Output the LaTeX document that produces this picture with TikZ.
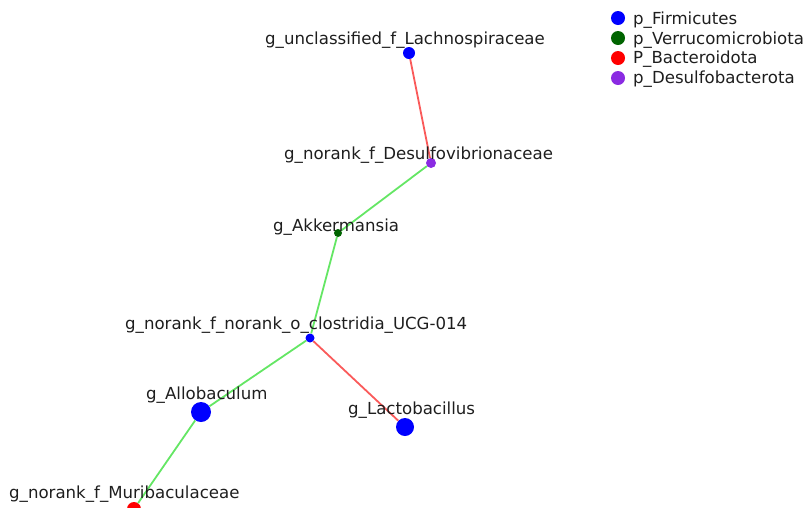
\documentclass[tikz,border=0pt]{standalone}
\usepackage{fontspec}
\setmainfont{DejaVu Sans}
\usetikzlibrary{positioning}

\definecolor{firmic}{RGB}{0,0,255}
\definecolor{verruc}{RGB}{0,100,0}
\definecolor{bacter}{RGB}{255,0,0}
\definecolor{desulf}{RGB}{138,43,226}
\definecolor{poscor}{RGB}{100,230,100}
\definecolor{negcor}{RGB}{250,90,90}
\definecolor{lbl}{RGB}{30,30,30}

\begin{document}
\begin{tikzpicture}[x=1pt,y=-1pt,
        font=\fontsize{16.6}{19}\selectfont,
        taxon/.style={circle,fill,inner sep=0pt,minimum size=#1},
        taxtext/.style={anchor=base west,inner sep=0pt,text=lbl},
        poslink/.style={poscor,line width=1.8pt},
        neglink/.style={negcor,line width=1.8pt}]
                \useasboundingbox (0,0) rectangle (803,507);
                % genera
                \node[taxon=12,firmic] (lachno) at (409,53) {};
                \node[taxon=10,desulf] (desulfo) at (431,163) {};
                \node[taxon=8,verruc] (akk) at (338,233) {};
                \node[taxon=9,firmic] (ucg) at (310,338) {};
                \node[taxon=20,firmic] (allo) at (201,412) {};
                \node[taxon=18,firmic] (lacto) at (405,427) {};
                \node[taxon=14,bacter] (muri) at (134,509) {};
                % correlations
                \draw[neglink] (lachno) -- (desulfo);
                \draw[poslink] (desulfo) -- (akk);
                \draw[poslink] (akk) -- (ucg);
                \draw[neglink] (ucg) -- (lacto);
                \draw[poslink] (ucg) -- (allo);
                \draw[poslink] (allo) -- (muri);
                % names
                \node[taxtext] (lachnolbl) at (265,44) {g\_unclassified\_f\_Lachnospiraceae};
                \node[taxtext] (desulfolbl) at (284,159) {g\_norank\_f\_Desulfovibrionaceae};
                \node[taxtext] (akklbl) at (273,231) {g\_Akkermansia};
                \node[taxtext] (ucglbl) at (125,329) {g\_norank\_f\_norank\_o\_clostridia\_UCG-014};
                \node[taxtext] (allolbl) at (146,399) {g\_Allobaculum};
                \node[taxtext] (lactolbl) at (348,414) {g\_Lactobacillus};
                \node[taxtext] (murilbl) at (9,498) {g\_norank\_f\_Muribaculaceae};
                % legend
                \node[taxon=14,firmic] (kf) at (618,18) {};
                \node[taxon=14,verruc] (kv) at (618,38) {};
                \node[taxon=14,bacter] (kb) at (618,58) {};
                \node[taxon=14,desulf] (kd) at (618,78) {};
                \node[taxtext] (kflbl) at (633,24) {p\_Firmicutes};
                \node[taxtext] (kvlbl) at (633,44) {p\_Verrucomicrobiota};
                \node[taxtext] (kblbl) at (633,63) {P\_Bacteroidota};
                \node[taxtext] (kdlbl) at (633,83) {p\_Desulfobacterota};
            \end{tikzpicture}
\end{document}
